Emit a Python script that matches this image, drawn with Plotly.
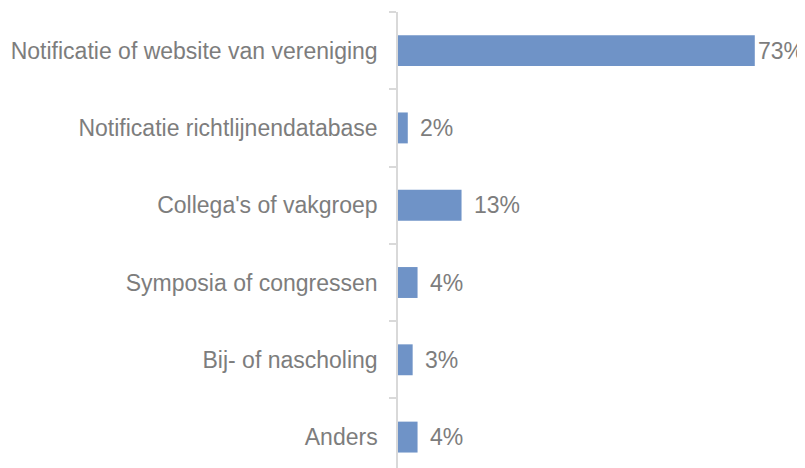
import plotly.graph_objects as go

categories = [
    "Notificatie of website van vereniging",
    "Notificatie richtlijnendatabase",
    "Collega's of vakgroep",
    "Symposia of congressen",
    "Bij- of nascholing",
    "Anders",
]
values = [73, 2, 13, 4, 3, 4]
labels = [f"{v}%" for v in values]

BAR = "#6F93C7"
TXT = "#7d7d7d"
AX = "#d9d9d9"
FONT = "Liberation Sans, Arial, sans-serif"
FS = 23

fig = go.Figure(go.Bar(
    x=values, y=categories, orientation="h",
    marker=dict(color=BAR, line=dict(width=0)),
    hoverinfo="skip",
))

for c, v, t in zip(categories, values, labels):
    fig.add_annotation(
        x=v, y=c, text=t, showarrow=False, xanchor="left", yanchor="middle",
        xshift=1 if v == max(values) else 10,
        font=dict(family=FONT, size=FS, color=TXT),
    )

fig.update_layout(
    width=797, height=460,
    margin=dict(l=390, r=16, t=4, b=0),
    paper_bgcolor="white", plot_bgcolor="white",
    bargap=0.6, showlegend=False,
    font=dict(family=FONT, size=FS, color=TXT),
)
fig.update_xaxes(range=[0, 80], visible=False, showgrid=False, zeroline=False)
fig.update_yaxes(
    type="category", range=[5.4, -0.5],
    showline=True, linecolor=AX, linewidth=1.5,
    ticks="outside", tickson="boundaries", ticklen=7, tickcolor=AX, tickwidth=1.5,
    ticklabelstandoff=14,
    showgrid=False, zeroline=False,
    tickfont=dict(family=FONT, size=FS, color=TXT),
)

fig.write_html("out.html")
